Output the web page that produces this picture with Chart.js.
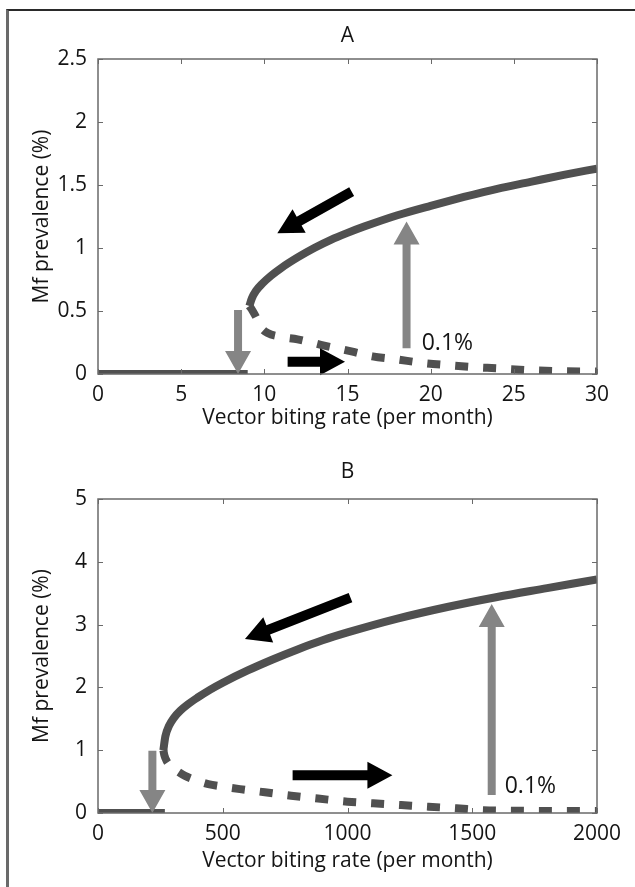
<!DOCTYPE html>
<html>
<head>
<meta charset="utf-8">
<script src="https://cdn.jsdelivr.net/npm/chart.js@4.4.1/dist/chart.umd.min.js"></script>
<style>
  html, body { margin: 0; padding: 0; background: #fff; }
  body { width: 635px; height: 887px; position: relative; overflow: hidden; }
  .frame { position: absolute; left: 6px; top: 9px; width: 700px; height: 900px;
           border-top: 2px solid #2a2a2a; border-left: 3px solid #6a6a6a; }
  .panel { position: absolute; left: 0; }
  #panelA { top: 0; }
  #panelB { top: 440px; }
</style>
</head>
<body>
<div class="frame"></div>
<div class="panel" id="panelA"><canvas id="chartA" width="635" height="440"></canvas></div>
<div class="panel" id="panelB"><canvas id="chartB" width="635" height="447"></canvas></div>
<script>
// ---- panel A : biting rate 0-30 per month ----
const aXTicks = [0, 5, 10, 15, 20, 25, 30]
const aXLabels = ['0', '5', '10', '15', '20', '25', '30']
const aYTicks = [0, 0.5, 1, 1.5, 2, 2.5]
const aYLabels = ['0', '0.5', '1', '1.5', '2', '2.5']

const aLowX = [0, 9.0]
const aLowY = [0, 0]
const aUpperX = [9.1, 9.25, 9.5, 9.9, 10.4, 11, 12, 13, 14, 15, 16, 18, 20, 22, 24, 26, 28, 30]
const aUpperY = [0.54, 0.6, 0.66, 0.72, 0.78, 0.84, 0.925, 1.0, 1.065, 1.12, 1.17, 1.26, 1.335, 1.405, 1.47, 1.525, 1.58, 1.63]
const aUnstX = [9.1, 9.3, 9.55, 9.8, 10.2, 11, 12, 13.6, 15.3, 16.5, 18, 19.5, 21, 22.5, 24, 26, 28, 30]
const aUnstY = [0.54, 0.5, 0.44, 0.37, 0.325, 0.295, 0.275, 0.225, 0.177, 0.14, 0.115, 0.088, 0.07, 0.055, 0.045, 0.03, 0.022, 0.02]

// arrows as [xFrom, yFrom, xTo, yTo]
const aGrayArrows = [[8.42, 0.508, 8.42, 0.0], [18.55, 0.204, 18.55, 1.21]]
const aBlackArrows = [[15.25, 1.447, 10.78, 1.117], [11.4, 0.098, 14.85, 0.098]]
const aNote = [19.46, 0.246]

// ---- panel B : biting rate 0-2000 per month ----
const bXTicks = [0, 500, 1000, 1500, 2000]
const bXLabels = ['0', '500', '1000', '1500', '2000']
const bYTicks = [0, 1, 2, 3, 4, 5]
const bYLabels = ['0', '1', '2', '3', '4', '5']

const bLowX = [0, 268]
const bLowY = [0, 0]
const bUpperX = [262, 270, 285, 305, 330, 360, 400, 450, 500, 600, 700, 800, 900, 1000, 1200, 1400, 1600, 1800, 2000]
const bUpperY = [1.0, 1.22, 1.39, 1.52, 1.63, 1.73, 1.84, 1.965, 2.075, 2.27, 2.445, 2.605, 2.75, 2.875, 3.095, 3.28, 3.44, 3.58, 3.72]
const bUnstX = [262, 266, 275, 290, 320, 349, 400, 442, 500, 569, 669, 774, 882, 1000, 1103, 1215, 1325, 1437, 1545, 1700, 1850, 2000]
const bUnstY = [1.0, 0.92, 0.83, 0.75, 0.66, 0.59, 0.51, 0.46, 0.42, 0.38, 0.33, 0.276, 0.23, 0.18, 0.154, 0.127, 0.1, 0.074, 0.045, 0.035, 0.03, 0.03]

const bGrayArrows = [[218, 0.99, 218, 0.0], [1578, 0.287, 1578, 3.33]]
const bBlackArrows = [[1012, 3.43, 589, 2.77], [780, 0.60, 1180, 0.60]]
const bNote = [1630, 0.42]

const noteText = '0.1%'
const xTitle = 'Vector biting rate (per month)'
const yTitle = 'Mf prevalence (%)'

const curveColor = '#505050'
const axisColor = '#6a6a6a'
const textColor = '#141414'
const grayArrow = { color: '#858585', shaft: 8, headW: 26, headL: 23 }
const blackArrow = { color: '#000', shaft: 10, headW: 27, headL: 25 }

Chart.defaults.font.family = "'Open Sans', sans-serif"
Chart.defaults.font.size = 21
Chart.defaults.color = textColor

const pts = (xs, ys) => xs.map((x, i) => ({ x, y: ys[i] }))

function drawArrow(ctx, x0, y0, x1, y1, st) {
    const len = Math.hypot(x1 - x0, y1 - y0)
    const ux = (x1 - x0) / len, uy = (y1 - y0) / len
    const px = -uy, py = ux
    const bx = x1 - ux * st.headL, by = y1 - uy * st.headL
    const s = st.shaft / 2, h = st.headW / 2
    ctx.beginPath()
    ctx.moveTo(x0 + px * s, y0 + py * s)
    ctx.lineTo(bx + px * s, by + py * s)
    ctx.lineTo(bx + px * h, by + py * h)
    ctx.lineTo(x1, y1)
    ctx.lineTo(bx - px * h, by - py * h)
    ctx.lineTo(bx - px * s, by - py * s)
    ctx.lineTo(x0 - px * s, y0 - py * s)
    ctx.closePath()
    ctx.fillStyle = st.color
    ctx.fill()
}

// matlab-ish box with inward ticks, arrows and the 0.1% note
const extras = {
    id: 'extras',
    afterDatasetsDraw(chart, args, opts) {
        const { ctx, chartArea: a, scales: { x, y } } = chart
        ctx.save()
        opts.gray.forEach(r => drawArrow(ctx, x.getPixelForValue(r[0]), y.getPixelForValue(r[1]),
            x.getPixelForValue(r[2]), y.getPixelForValue(r[3]), grayArrow))
        opts.black.forEach(r => drawArrow(ctx, x.getPixelForValue(r[0]), y.getPixelForValue(r[1]),
            x.getPixelForValue(r[2]), y.getPixelForValue(r[3]), blackArrow))

        ctx.strokeStyle = axisColor
        ctx.lineWidth = 1.5
        ctx.strokeRect(a.left, a.top, a.right - a.left, a.bottom - a.top)
        ctx.lineWidth = 1
        ctx.beginPath()
        opts.xTicks.forEach(v => {
            const px = Math.round(x.getPixelForValue(v)) + 0.5
            ctx.moveTo(px, a.bottom); ctx.lineTo(px, a.bottom - 5)
            ctx.moveTo(px, a.top); ctx.lineTo(px, a.top + 5)
        })
        opts.yTicks.forEach(v => {
            const py = Math.round(y.getPixelForValue(v)) + 0.5
            ctx.moveTo(a.left, py); ctx.lineTo(a.left + 5, py)
            ctx.moveTo(a.right, py); ctx.lineTo(a.right - 5, py)
        })
        ctx.stroke()

        ctx.fillStyle = textColor
        ctx.font = "23px 'Open Sans', sans-serif"
        ctx.textAlign = 'left'
        ctx.textBaseline = 'middle'
        ctx.fillText(noteText, x.getPixelForValue(opts.note[0]), y.getPixelForValue(opts.note[1]))
        ctx.restore()
    }
}

function makeChart(id, cfg) {
    const line = (data, width, dash) => ({
        data, borderColor: curveColor, borderWidth: width, borderDash: dash,
        borderCapStyle: 'butt', borderJoinStyle: 'round',
        pointRadius: 0, cubicInterpolationMode: 'monotone', fill: false
    })
    return new Chart(document.getElementById(id), {
        type: 'line',
        data: {
            datasets: [
                line(pts(cfg.lowX, cfg.lowY), 8, []),
                line(pts(cfg.upX, cfg.upY), 8, []),
                line(pts(cfg.unX, cfg.unY), 8, [13, 15]),
            ]
        },
        options: {
            responsive: false,
            animation: false,
            events: [],
            layout: { padding: { left: 0, right: 38, top: 0, bottom: 0 } },
            scales: {
                x: {
                    type: 'linear', min: cfg.xTicks[0], max: cfg.xTicks[cfg.xTicks.length - 1],
                    afterBuildTicks: s => { s.ticks = cfg.xTicks.map(v => ({ value: v })) },
                    afterFit: s => { s.height = cfg.xAxisH },
                    grid: { display: false, drawTicks: false },
                    border: { display: false },
                    ticks: { padding: 8, maxRotation: 0, autoSkip: false, callback: (v, i) => cfg.xLabels[i] },
                    title: { display: true, text: xTitle, padding: { top: 0, bottom: cfg.xTitlePad } }
                },
                y: {
                    type: 'linear', min: cfg.yTicks[0], max: cfg.yTicks[cfg.yTicks.length - 1],
                    afterBuildTicks: s => { s.ticks = cfg.yTicks.map(v => ({ value: v })) },
                    afterFit: s => { s.width = 98 },
                    grid: { display: false, drawTicks: false },
                    border: { display: false },
                    ticks: { padding: 11, autoSkip: false, callback: (v, i) => cfg.yLabels[i] },
                    title: { display: true, text: yTitle, padding: { top: 29, bottom: 0 } }
                }
            },
            plugins: {
                legend: { display: false },
                tooltip: { enabled: false },
                title: {
                    display: true, fullSize: false, text: cfg.title, color: textColor,
                    font: { size: 21, weight: 'normal' },
                    padding: { top: cfg.titleTop, bottom: 59 - 25.2 - cfg.titleTop }
                },
                extras: { gray: cfg.gray, black: cfg.black, note: cfg.note, xTicks: cfg.xTicks, yTicks: cfg.yTicks }
            }
        },
        plugins: [extras]
    })
}

makeChart('chartA', {
    title: 'A', titleTop: 23.4, xAxisH: 66, xTitlePad: 9.4,
    xTicks: aXTicks, xLabels: aXLabels, yTicks: aYTicks, yLabels: aYLabels,
    lowX: aLowX, lowY: aLowY, upX: aUpperX, upY: aUpperY, unX: aUnstX, unY: aUnstY,
    gray: aGrayArrows, black: aBlackArrows, note: aNote
})

makeChart('chartB', {
    title: 'B', titleTop: 19.4, xAxisH: 74, xTitlePad: 13.4,
    xTicks: bXTicks, xLabels: bXLabels, yTicks: bYTicks, yLabels: bYLabels,
    lowX: bLowX, lowY: bLowY, upX: bUpperX, upY: bUpperY, unX: bUnstX, unY: bUnstY,
    gray: bGrayArrows, black: bBlackArrows, note: bNote
})
</script>
</body>
</html>
